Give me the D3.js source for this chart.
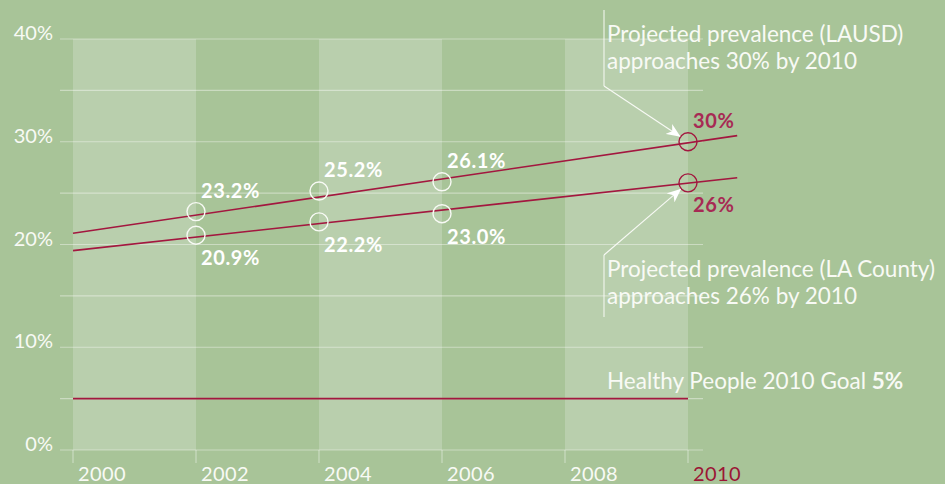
<!DOCTYPE html>
<html>
<head>
<meta charset="UTF-8">
<title>Projected prevalence</title>
<style>
  body { margin: 0; background: #a8c498; }
  svg { display: block; font-family: Lato, "Open Sans", sans-serif; }
</style>
</head>
<body>
<div id="chart"></div>
<script src="https://d3js.org/d3.v7.min.js"></script>
<script>
// data
var years = [2000, 2002, 2004, 2006, 2008, 2010];
var yTicks = [0, 10, 20, 30, 40];
var gridTicks = [0, 5, 10, 15, 20, 25, 30, 35, 40];
var pointYears = [2002, 2004, 2006];
var lausd = [23.2, 25.2, 26.1];
var county = [20.9, 22.2, 23.0];
var projYear = 2010;
var lausdProj = 30;
var countyProj = 26;
// trend lines: start / end year and value
var trendYears = [2000, 2010.8];
var lausdTrend = [21.1, 30.6];
var countyTrend = [19.4, 26.5];
var goal = 5;

var width = 945, height = 484;
var bg = "#a8c498", band = "#b9cfad", red = "#a3173f", labelRed = "#a72a54", white = "#f8faf5";

var svg = d3.select("#chart").append("svg")
    .attr("width", width)
    .attr("height", height);

svg.append("rect").attr("width", width).attr("height", height).attr("fill", bg);

var x = d3.scaleLinear().domain([2000, 2010]).range([73, 688]);
var y = d3.scaleLinear().domain([0, 40]).range([450, 39]);

// light bands every other 2-year span
var bands = [[2000, 2002], [2004, 2006], [2008, 2010]];
svg.selectAll("rect.band")
    .data(bands)
    .enter().append("rect")
    .attr("class", "band")
    .attr("x", function(d) { return x(d[0]); })
    .attr("width", function(d) { return x(d[1]) - x(d[0]); })
    .attr("y", y(40))
    .attr("height", y(0) - y(40))
    .attr("fill", band);

// gridlines
svg.selectAll("line.grid")
    .data(gridTicks)
    .enter().append("line")
    .attr("class", "grid")
    .attr("x1", 60).attr("x2", 703)
    .attr("y1", function(d) { return y(d); })
    .attr("y2", function(d) { return y(d); })
    .attr("stroke", "#ffffff")
    .attr("stroke-opacity", 0.4)
    .attr("stroke-width", 1.2);

// y labels
svg.selectAll("text.ylab")
    .data(yTicks)
    .enter().append("text")
    .attr("class", "ylab")
    .attr("x", 53)
    .attr("y", function(d) { return y(d) + 1; })
    .attr("text-anchor", "end")
    .attr("font-size", 20)
    .attr("fill", white)
    .text(function(d) { return d + "%"; });

// x ticks and labels
svg.selectAll("line.xtick")
    .data(years)
    .enter().append("line")
    .attr("class", "xtick")
    .attr("x1", function(d) { return x(d); })
    .attr("x2", function(d) { return x(d); })
    .attr("y1", y(0)).attr("y2", y(0) + 13)
    .attr("stroke", "#ffffff")
    .attr("stroke-opacity", 0.4)
    .attr("stroke-width", 1.2);

svg.selectAll("text.xlab")
    .data(years)
    .enter().append("text")
    .attr("class", "xlab")
    .attr("x", function(d) { return x(d) + 5; })
    .attr("y", 481)
    .attr("font-size", 20)
    .attr("letter-spacing", 0.4)
    .attr("fill", function(d) { return d === projYear ? "#9b1535" : white; })
    .text(function(d) { return d; });

// goal line
svg.append("line")
    .attr("x1", x(2000)).attr("x2", x(2010))
    .attr("y1", y(goal)).attr("y2", y(goal))
    .attr("stroke", red).attr("stroke-width", 1.6);

// trend lines
var line = d3.line()
    .x(function(d) { return x(d[0]); })
    .y(function(d) { return y(d[1]); });

[lausdTrend, countyTrend].forEach(function(t) {
    svg.append("path")
        .datum(d3.zip(trendYears, t))
        .attr("d", line)
        .attr("fill", "none")
        .attr("stroke", red)
        .attr("stroke-width", 1.6);
});

// data points
var r = 9;
function points(vals, above) {
    var data = d3.zip(pointYears, vals);
    svg.selectAll(null)
        .data(data)
        .enter().append("circle")
        .attr("cx", function(d) { return x(d[0]); })
        .attr("cy", function(d) { return y(d[1]); })
        .attr("r", r)
        .attr("fill", "none")
        .attr("stroke", white)
        .attr("stroke-width", 1.4);
    svg.selectAll(null)
        .data(data)
        .enter().append("text")
        .attr("x", function(d) { return x(d[0]) + 5; })
        .attr("y", function(d) { return y(d[1]) + (above ? -14 : 30); })
        .attr("font-size", 20)
        .attr("font-weight", 700)
        .attr("letter-spacing", 0.6)
        .attr("fill", "#ffffff")
        .text(function(d) { return d[1].toFixed(1) + "%"; });
}
points(lausd, true);
points(county, false);

// projected points
[[lausdProj, -14], [countyProj, 29]].forEach(function(p) {
    svg.append("circle")
        .attr("cx", x(projYear)).attr("cy", y(p[0])).attr("r", r)
        .attr("fill", "none").attr("stroke", red).attr("stroke-width", 1.4);
    svg.append("text")
        .attr("x", x(projYear) + 5)
        .attr("y", y(p[0]) + p[1])
        .attr("font-size", 20)
        .attr("font-weight", 700)
        .attr("letter-spacing", 0.6)
        .attr("fill", labelRed)
        .text(p[0] + "%");
});

// annotations
svg.append("defs").append("marker")
    .attr("id", "arrow")
    .attr("viewBox", "0 0 14 12")
    .attr("refX", 13).attr("refY", 6)
    .attr("markerWidth", 14).attr("markerHeight", 12)
    .attr("markerUnits", "userSpaceOnUse")
    .attr("orient", "auto")
    .append("path")
    .attr("d", "M0,0 L14,6 L0,12 L4,6 Z")
    .attr("fill", "#ffffff");

function callout(x0, yTop, yBottom, value, startAtTop) {
    var cx = x(projYear), cy = y(value);
    var sy = startAtTop ? yBottom : yTop;
    var dx = x0 - cx, dy = sy - cy, len = Math.sqrt(dx * dx + dy * dy);
    svg.append("line")
        .attr("x1", x0).attr("x2", x0)
        .attr("y1", yTop).attr("y2", yBottom)
        .attr("stroke", white).attr("stroke-width", 1);
    svg.append("line")
        .attr("x1", x0).attr("y1", sy)
        .attr("x2", cx + dx / len * (r + 1)).attr("y2", cy + dy / len * (r + 1))
        .attr("stroke", white).attr("stroke-width", 1.1)
        .attr("marker-end", "url(#arrow)");
}
callout(604, 10, 86, lausdProj, true);
callout(604, 255, 317, countyProj, false);

function note(lines, yBase) {
    var t = svg.append("text")
        .attr("x", 607)
        .attr("y", yBase)
        .attr("font-size", 22.5)
        .attr("fill", white);
    lines.forEach(function(s, i) {
        t.append("tspan").attr("x", 607).attr("dy", i === 0 ? 0 : 27).text(s);
    });
}
note(["Projected prevalence (LAUSD)", "approaches 30% by 2010"], 42);
note(["Projected prevalence (LA County)", "approaches 26% by 2010"], 277);

var g = svg.append("text")
    .attr("x", 607).attr("y", 389)
    .attr("font-size", 22.5)
    .attr("fill", white);
g.append("tspan").text("Healthy People 2010 Goal ");
g.append("tspan").attr("font-weight", 700).text(goal + "%");
</script>
</body>
</html>
